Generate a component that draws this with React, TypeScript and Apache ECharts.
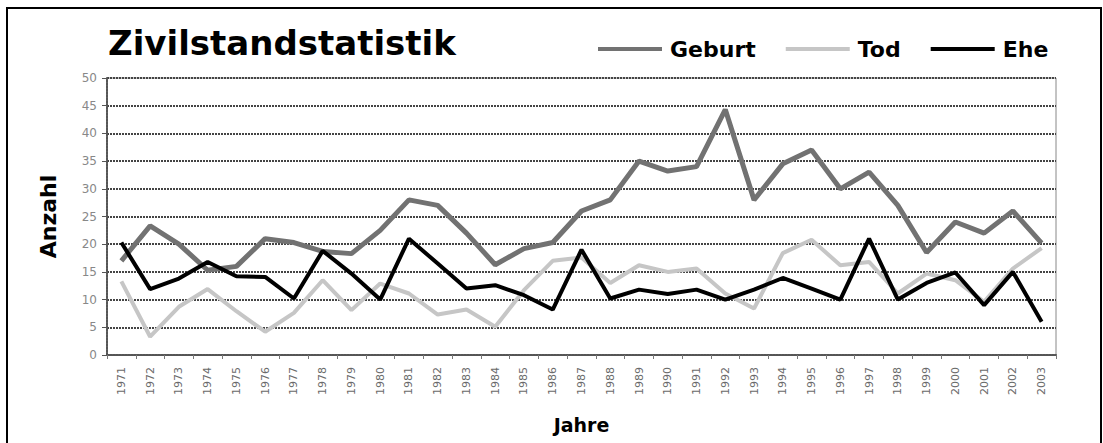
import React, { useEffect, useRef } from "react";
import * as echarts from "echarts";

const years = [
  "1971", "1972", "1973", "1974", "1975", "1976", "1977", "1978", "1979", "1980",
  "1981", "1982", "1983", "1984", "1985", "1986", "1987", "1988", "1989", "1990",
  "1991", "1992", "1993", "1994", "1995", "1996", "1997", "1998", "1999", "2000",
  "2001", "2002", "2003",
];
const geburt = [17, 23.3, 20, 15.3, 16, 21, 20.3, 18.7, 18.3, 22.5, 28, 27, 22, 16.3, 19.2, 20.3, 26, 28, 35, 33.2, 34, 44.3, 28, 34.5, 37, 30, 33, 27, 18.5, 24, 22, 26, 20.2];
const tod = [13.3, 3.3, 8.7, 11.9, 7.9, 4.2, 7.6, 13.5, 8.1, 12.9, 11.1, 7.3, 8.2, 5.1, 11.7, 17, 17.6, 13, 16.2, 15, 15.6, 11.1, 8.4, 18.4, 20.8, 16.2, 16.8, 11.1, 14.7, 13.5, 9.6, 15.6, 19.3];
const ehe = [20.3, 11.9, 13.8, 16.8, 14.2, 14.1, 10.2, 18.8, 14.7, 10, 21, 16.5, 12, 12.6, 10.8, 8.2, 19, 10.2, 11.8, 11, 11.8, 10, 11.8, 13.9, 12, 10, 21, 10, 13, 14.9, 9, 15, 6];
const yTicks = { min: 0, max: 50, interval: 5 };

export default function App() {
  const ref = useRef<HTMLDivElement>(null);
  useEffect(() => {
    if (!ref.current) return;
    const chart = echarts.init(ref.current, undefined, { renderer: "svg" });
    const font = "DejaVu Sans";
    chart.setOption({
      animation: false,
      backgroundColor: "#ffffff",
      textStyle: { fontFamily: font },
      title: {
        text: "Zivilstandstatistik",
        left: 108,
        top: 26,
        padding: 0,
        textStyle: { fontFamily: font, fontSize: 34, fontWeight: "bold", color: "#000" },
      },
      legend: {
        left: 598,
        top: 38,
        padding: 0,
        icon: "rect",
        itemWidth: 64,
        itemHeight: 4,
        itemGap: 30,
        textStyle: { fontFamily: font, fontSize: 22, fontWeight: "bold", color: "#000", padding: [0, 0, 0, 3] },
        data: [
          { name: "Geburt", textStyle: { width: 86 } },
          { name: "Tod", textStyle: { width: 50 } },
          { name: "Ehe" },
        ],
      },
      grid: {
        left: 107,
        right: 47,
        top: 78,
        bottom: 88,
        containLabel: false,
        outerBoundsMode: "none",
        show: true,
        borderColor: "#888",
        borderWidth: 1,
      },
      xAxis: {
        type: "category",
        data: years,
        boundaryGap: true,
        name: "Jahre",
        nameLocation: "middle",
        nameGap: 60,
        nameTextStyle: { fontFamily: font, fontSize: 19, fontWeight: "bold", color: "#000" },
        axisLine: { lineStyle: { color: "#555", width: 2, type: [2, 1] } },
        axisTick: { show: true, length: 4, interval: 0, lineStyle: { color: "#777" } },
        axisLabel: { interval: 0, rotate: 90, fontSize: 11, color: "#6a6a6a", margin: 12 },
      },
      yAxis: {
        type: "value",
        min: yTicks.min,
        max: yTicks.max,
        interval: yTicks.interval,
        name: "Anzahl",
        nameLocation: "middle",
        nameGap: 48,
        nameTextStyle: { fontFamily: font, fontSize: 22, fontWeight: "bold", color: "#000" },
        axisLine: { show: true, lineStyle: { color: "#555", width: 2, type: [2, 1] } },
        axisTick: { show: true, length: 5, lineStyle: { color: "#555" } },
        axisLabel: { fontSize: 12, color: "#888", margin: 10 },
        splitLine: { show: true, lineStyle: { color: "#444", width: 2, type: [2, 1] } },
      },
      series: [
        {
          name: "Geburt",
          type: "line",
          data: geburt,
          symbol: "none",
          lineStyle: { color: "#727272", width: 5 },
          itemStyle: { color: "#727272" },
        },
        {
          name: "Tod",
          type: "line",
          data: tod,
          symbol: "none",
          lineStyle: { color: "#c6c6c6", width: 4 },
          itemStyle: { color: "#c6c6c6" },
        },
        {
          name: "Ehe",
          type: "line",
          data: ehe,
          symbol: "none",
          lineStyle: { color: "#000000", width: 4 },
          itemStyle: { color: "#000000" },
        },
      ],
      graphic: [
        {
          type: "rect",
          shape: { x: 7, y: 8, width: 1094, height: 500 },
          style: { fill: "none", stroke: "#000", lineWidth: 2 },
          silent: true,
        },
      ],
    });
    return () => chart.dispose();
  }, []);
  return (
    <div
      ref={ref}
      style={{ position: "absolute", left: 0, top: 0, width: 1103, height: 443 }}
    />
  );
}
